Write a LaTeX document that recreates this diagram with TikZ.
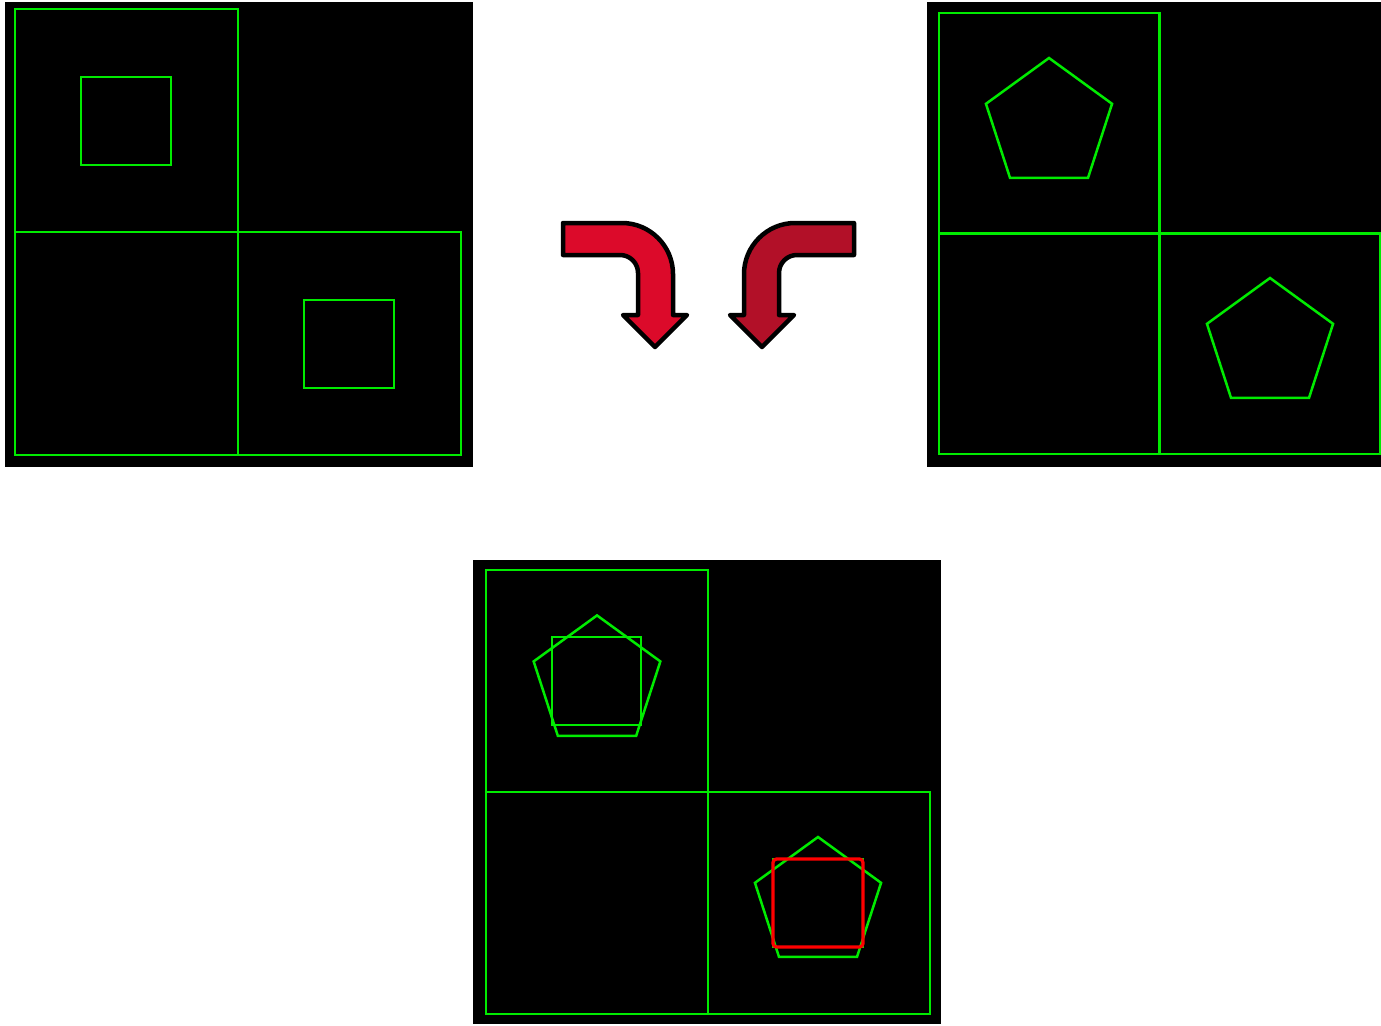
\documentclass[tikz,border=0pt]{standalone}
\usepackage{tikz}

\definecolor{gridgreen}{RGB}{0,235,0}
\definecolor{arrowred}{RGB}{220,10,42}
\definecolor{arrowdark}{RGB}{178,16,40}

% L-shaped grid: top-left cell plus the two bottom cells
% #1,#2 = top-left corner, #3 = cell size (pixels)
\newcommand{\lgrid}[3]{%
  \draw[grid] (#1,#2) rectangle ++(#3,#3);
  \draw[grid] (#1,#2+#3) rectangle ++(2*#3,#3);
  \draw[grid] (#1+#3,#2+#3) -- ++(0,#3);
}
% regular pentagon, point up: centre #1,#2, radius #3
\newcommand{\pent}[3]{%
  \draw[grid, shift={(#1,#2)}] (-90:#3) -- (-18:#3) -- (54:#3) -- (126:#3) -- (198:#3) -- cycle;
}
% bent arrow, #1 = fill, #2 = extra transform
\newcommand{\bentarrow}[2]{%
  \draw[arrowline, fill=#1, #2] (563,223) -- (622,223)
    .. controls (650,223) and (673,246) .. (673,274) -- (673,315) -- (687,315)
    -- (655,347) -- (623,315) -- (638,315) -- (638,273)
    .. controls (638,263) and (630,255) .. (620,255) -- (563,255) -- cycle;
}

\begin{document}
\begin{tikzpicture}[
  x=0.02cm, y=-0.02cm,
  panel/.style={fill=black},
  grid/.style={draw=gridgreen, line width=0.05cm},
  hit/.style={draw=red, line width=0.065cm, rounded corners=2pt},
  arrowline/.style={draw=black, line width=0.09cm, line join=round}]

  \useasboundingbox (0,0) rectangle (1381,1025);

  % Panel A: squares
  \fill[panel] (5,2) rectangle (473,467);
  \lgrid{15}{9}{223}
  \draw[grid] (81,77) rectangle (171,165);
  \draw[grid] (304,300) rectangle (394,388);

  % Panel B: pentagons
  \fill[panel] (927,2) rectangle (1381,467);
  \lgrid{939}{13}{220.5}
  \pent{1049}{124.3}{66.3}
  \pent{1270}{344.3}{66.3}

  % Arrows
  \bentarrow{arrowred}{}
  \bentarrow{arrowdark}{shift={(1417,0)}, xscale=-1}

  % Panel C: overlay
  \fill[panel] (473,560) rectangle (941,1024);
  \lgrid{486}{570}{222}
  \draw[grid] (552,637) rectangle (641,725);
  \pent{597}{682}{66.6}
  \draw[grid] (773,859) rectangle (863,947);
  \pent{818}{903.3}{66.3}
  \draw[hit] (773,859) rectangle (863,947);

\end{tikzpicture}
\end{document}
